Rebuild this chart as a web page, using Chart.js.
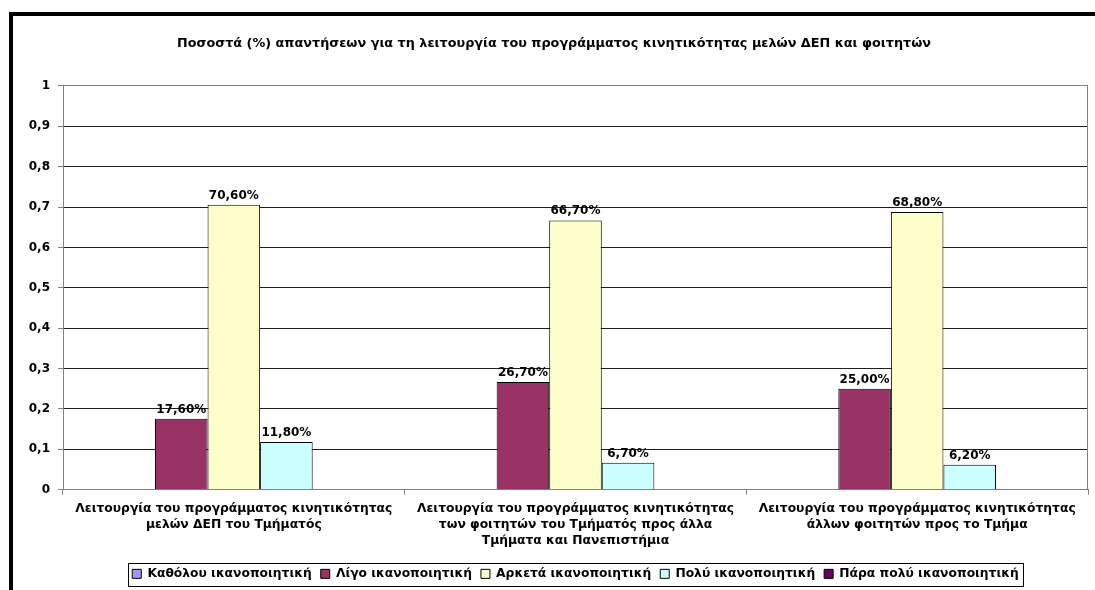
<!DOCTYPE html>
<html>
<head>
<meta charset="utf-8">
<script src="https://cdn.jsdelivr.net/npm/chart.js@4"></script>
<style>
  body { margin: 0; background: #fff; }
  canvas { display: block; }
</style>
</head>
<body>
<canvas id="myChart" width="1095" height="590"></canvas>
<script>
//data
const categories = [
  ["Λειτουργία του προγράμματος κινητικότητας", "μελών ΔΕΠ του Τμήματός"],
  ["Λειτουργία του προγράμματος κινητικότητας", "των φοιτητών του Τμήματός προς άλλα", "Τμήματα και Πανεπιστήμια"],
  ["Λειτουργία του προγράμματος κινητικότητας", "άλλων φοιτητών προς το Τμήμα"],
];
const seriesNames = [
  "Καθόλου ικανοποιητική",
  "Λίγο ικανοποιητική",
  "Αρκετά ικανοποιητική",
  "Πολύ ικανοποιητική",
  "Πάρα πολύ ικανοποιητική",
];
const katholou = [0, 0, 0];
const ligo = [0.176, 0.267, 0.25];
const arketa = [0.706, 0.667, 0.688];
const poly = [0.118, 0.067, 0.062];
const paraPoly = [0, 0, 0];
const colors = ["#9999ff", "#993366", "#ffffcc", "#ccffff", "#660066"];

const FONT = "'DejaVu Sans', Arial, sans-serif";
Chart.defaults.font.family = FONT;
Chart.defaults.font.size = 12;
Chart.defaults.font.weight = "bold";
Chart.defaults.color = "#000";

//khung ngoai
const framePlugin = {
  id: "frame",
  beforeDraw(chart) {
    const c = chart.ctx;
    c.save();
    c.fillStyle = "#fff";
    c.fillRect(0, 0, chart.width, chart.height);
    c.fillStyle = "#000";
    c.fillRect(9, 12, chart.width, 4);
    c.fillRect(9, 12, 4, chart.height);
    c.restore();
  },
  beforeDatasetsDraw(chart) {
    const a = chart.chartArea;
    const c = chart.ctx;
    c.save();
    c.strokeStyle = "#808080";
    c.lineWidth = 1;
    c.beginPath();
    c.moveTo(Math.round(a.right) - 0.5, a.top);
    c.lineTo(Math.round(a.right) - 0.5, a.bottom);
    c.stroke();
    c.restore();
  },
};

//nhan gia tri
const valueLabels = {
  id: "valueLabels",
  afterDatasetsDraw(chart) {
    const c = chart.ctx;
    c.save();
    c.font = "bold 12px " + FONT;
    c.fillStyle = "#000";
    c.textAlign = "center";
    c.textBaseline = "alphabetic";
    chart.data.datasets.forEach((ds, i) => {
      chart.getDatasetMeta(i).data.forEach((bar, j) => {
        const v = ds.data[j];
        if (!v) return;
        const txt = (v * 100).toFixed(2).replace(".", ",") + "%";
        c.fillText(txt, bar.x, bar.y - 6);
      });
    });
    c.restore();
  },
};

//khung legend
const legendBox = {
  id: "legendBox",
  afterDraw(chart) {
    const boxes = chart.legend.legendHitBoxes;
    if (!boxes || !boxes.length) return;
    const first = boxes[0];
    const last = boxes[boxes.length - 1];
    const c = chart.ctx;
    c.save();
    c.strokeStyle = "#000";
    c.lineWidth = 1;
    const l = Math.round(first.left - 4) + 0.5;
    const r = Math.round(last.left + last.width + 4) + 0.5;
    const t = Math.round(first.top - 5) + 0.5;
    const b = Math.round(first.top + first.height + 6) + 0.5;
    c.strokeRect(l, t, r - l, b - t);
    c.restore();
  },
};

const seriesData = [katholou, ligo, arketa, poly, paraPoly];

new Chart("myChart", {
  type: "bar",
  data: {
    labels: categories,
    datasets: seriesData.map((d, i) => ({
      label: seriesNames[i],
      data: d,
      backgroundColor: colors[i],
      borderColor: "#000",
      borderWidth: (ctx) => (ctx.type === "data" && !ctx.raw ? 0 : 1),
      categoryPercentage: 5 / 6.5,
      barPercentage: 1,
    })),
  },
  options: {
    responsive: false,
    animation: false,
    layout: { padding: { left: 20, right: 7, top: 0, bottom: 0 } },
    plugins: {
      title: {
        display: true,
        text: "Ποσοστά (%) απαντήσεων για τη λειτουργία του προγράμματος κινητικότητας μελών ΔΕΠ και φοιτητών",
        font: { size: 12.8, weight: "bold" },
        color: "#000",
        padding: { top: 35.5, bottom: 35.1 },
      },
      legend: {
        position: "bottom",
        fullSize: false,
        labels: {
          boxWidth: 9,
          boxHeight: 9,
          padding: 9,
          font: { size: 12.3, weight: "bold" },
          color: "#000",
          generateLabels(chart) {
            const items = Chart.defaults.plugins.legend.labels.generateLabels(chart);
            items.forEach((it) => {
              it.lineWidth = 1;
              it.strokeStyle = "#000";
            });
            return items;
          },
        },
      },
      tooltip: { enabled: false },
    },
    scales: {
      x: {
        grid: {
          display: true,
          drawOnChartArea: false,
          offset: true,
          tickLength: 5,
          color: "#808080",
        },
        border: { color: "#808080" },
        ticks: {
          maxRotation: 0,
          autoSkip: false,
          padding: 6,
          font: { size: 12.3, weight: "bold", lineHeight: 1.32 },
        },
        afterFit(scale) {
          scale.height = 69;
        },
      },
      y: {
        min: 0,
        max: 1,
        grid: {
          tickLength: 5,
          color: (ctx) => (ctx.tick && (ctx.tick.value === 0 || ctx.tick.value === 1) ? "#808080" : "#1e1e1e"),
          tickColor: "#808080",
        },
        border: { color: "#808080" },
        ticks: {
          stepSize: 0.1,
          padding: 8,
          font: { size: 12, weight: "bold" },
          callback: (v) => (v === 0 ? "0" : v === 1 ? "1" : Number(v).toFixed(1).replace(".", ",")),
        },
        afterFit(scale) {
          scale.width = 43;
        },
      },
    },
  },
  plugins: [framePlugin, valueLabels, legendBox],
});
</script>
</body>
</html>
